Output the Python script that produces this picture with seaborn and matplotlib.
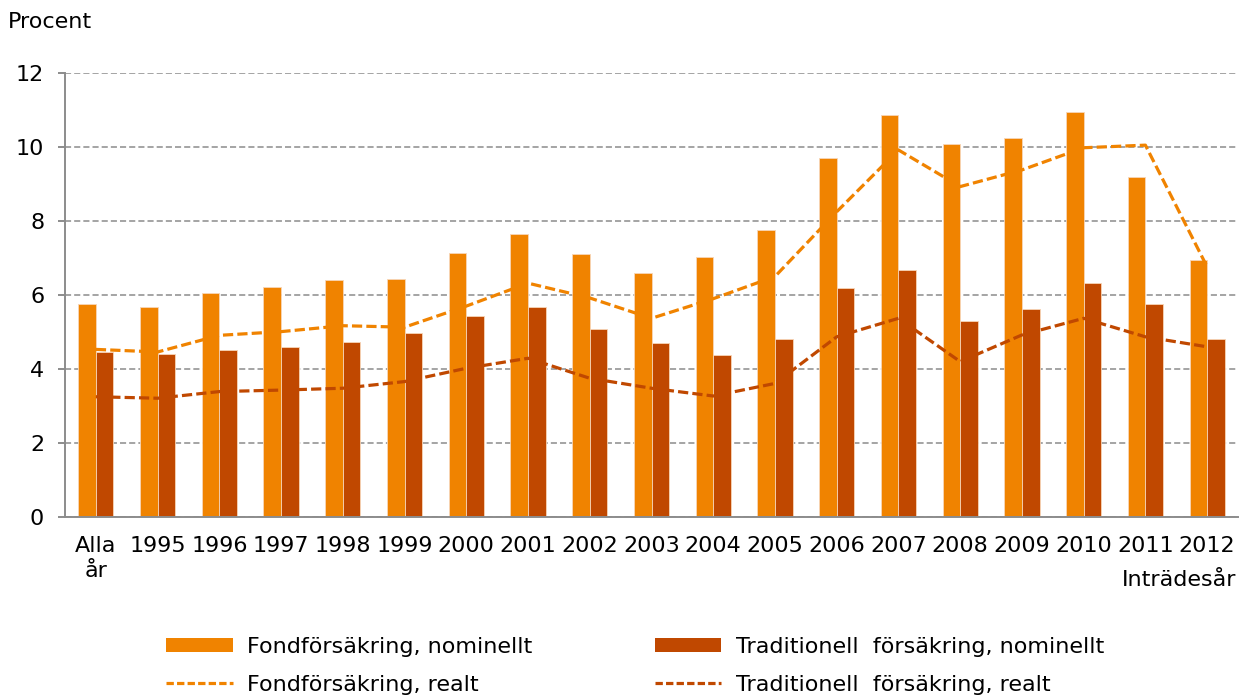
import numpy as np
import pandas as pd
import seaborn as sns
import matplotlib.pyplot as plt
from matplotlib.patches import Patch
from matplotlib.lines import Line2D

# data
years = ["Alla\når", "1995", "1996", "1997", "1998", "1999", "2000", "2001", "2002",
         "2003", "2004", "2005", "2006", "2007", "2008", "2009", "2010", "2011", "2012"]
fond_nominellt = [5.75, 5.67, 6.05, 6.21, 6.41, 6.42, 7.14, 7.65, 7.10, 6.59,
                  7.03, 7.77, 9.70, 10.86, 10.07, 10.23, 10.95, 9.20, 6.95]
trad_nominellt = [4.46, 4.41, 4.51, 4.59, 4.72, 4.96, 5.42, 5.67, 5.07, 4.70,
                  4.39, 4.81, 6.20, 6.68, 5.29, 5.61, 6.33, 5.75, 4.81]
fond_realt = [4.53, 4.46, 4.91, 5.01, 5.17, 5.13, 5.70, 6.32, 5.92, 5.37,
              5.90, 6.50, 8.25, 9.92, 8.93, 9.38, 9.98, 10.05, 6.76]
trad_realt = [3.25, 3.21, 3.39, 3.43, 3.48, 3.66, 4.02, 4.29, 3.75, 3.48,
              3.27, 3.61, 4.87, 5.37, 4.20, 4.92, 5.37, 4.87, 4.60]

lbl_fond_nom = "Fondförsäkring, nominellt"
lbl_trad_nom = "Traditionell  försäkring, nominellt"
lbl_fond_real = "Fondförsäkring, realt"
lbl_trad_real = "Traditionell  försäkring, realt"

c_fond = "#F08300"
c_trad = "#C04800"
grey = "#8c8c8c"
fs = 16

sns.set_theme(style="white")
plt.rcParams["font.family"] = ["DejaVu Sans"]
plt.rcParams["text.color"] = "black"
plt.rcParams["xtick.color"] = "black"
plt.rcParams["ytick.color"] = "black"

df = pd.DataFrame({
    "year": years * 2,
    "value": fond_nominellt + trad_nominellt,
    "serie": [lbl_fond_nom] * len(years) + [lbl_trad_nom] * len(years),
})

fig = plt.figure(figsize=(12.41, 6.97), dpi=100)
ax = fig.add_axes([65 / 1241, 180 / 697, 1173 / 1241, 444 / 697])

sns.barplot(data=df, x="year", y="value", hue="serie", order=years,
            hue_order=[lbl_fond_nom, lbl_trad_nom], palette=[c_fond, c_trad],
            saturation=1, width=0.57, edgecolor="#f7d6b8", linewidth=0.6, ax=ax,
            legend=False, zorder=2)

xs = np.arange(len(years))
dash = (0, (3.2, 1.3))
sns.lineplot(x=xs, y=fond_realt, color=c_fond, lw=2.3, linestyle=dash, ax=ax, zorder=3)
sns.lineplot(x=xs, y=trad_realt, color=c_trad, lw=2.3, linestyle=dash, ax=ax, zorder=3)

ax.set_xlim(-0.5, len(years) - 0.5)
ax.set_ylim(0, 12)
ax.set_yticks(range(0, 13, 2))
ax.set_xlabel("")
ax.set_ylabel("")

ax.yaxis.grid(True, color=grey, linestyle=(0, (4, 2)), lw=1.1, zorder=0)
ax.set_axisbelow(True)

for s in ["top", "right"]:
    ax.spines[s].set_visible(False)
for s in ["left", "bottom"]:
    ax.spines[s].set_color(grey)
    ax.spines[s].set_linewidth(1.4)

# tick marks between categories, labels centered
ax.set_xticks(xs)
ax.set_xticklabels(years, fontsize=fs, linespacing=1.3)
ax.set_xticks(np.arange(-0.5, len(years), 1), minor=True)
ax.tick_params(axis="x", which="major", length=0, pad=13.5, labelcolor="black")
ax.tick_params(axis="x", which="minor", length=6, width=1.4, color=grey, direction="out")
ax.tick_params(axis="y", length=5, width=1.4, color=grey, pad=10, labelsize=fs,
               left=True, direction="out", labelcolor="black")

fig.text(8 / 1241, 1 - 22 / 697, "Procent", fontsize=fs, va="center", ha="left")
fig.text(1236 / 1241, 1 - 580 / 697, "Inträdesår", fontsize=fs, va="center", ha="right")

handles = [
    Patch(facecolor=c_fond, edgecolor="none"),
    Line2D([0], [0], color=c_fond, lw=2.3, linestyle=(0, (2.3, 1))),
    Patch(facecolor=c_trad, edgecolor="none"),
    Line2D([0], [0], color=c_trad, lw=2.3, linestyle=(0, (2.3, 1))),
]
labels = [lbl_fond_nom, lbl_fond_real, lbl_trad_nom, lbl_trad_real]
fig.legend(handles, labels, ncol=2, loc="center", bbox_to_anchor=(635 / 1241, 1 - 666 / 697),
           frameon=False, fontsize=fs, handlelength=3.0, handleheight=0.6,
           handletextpad=0.65, columnspacing=5.5, labelspacing=0.8, labelcolor="black")

fig.savefig("out.png", dpi=100)
